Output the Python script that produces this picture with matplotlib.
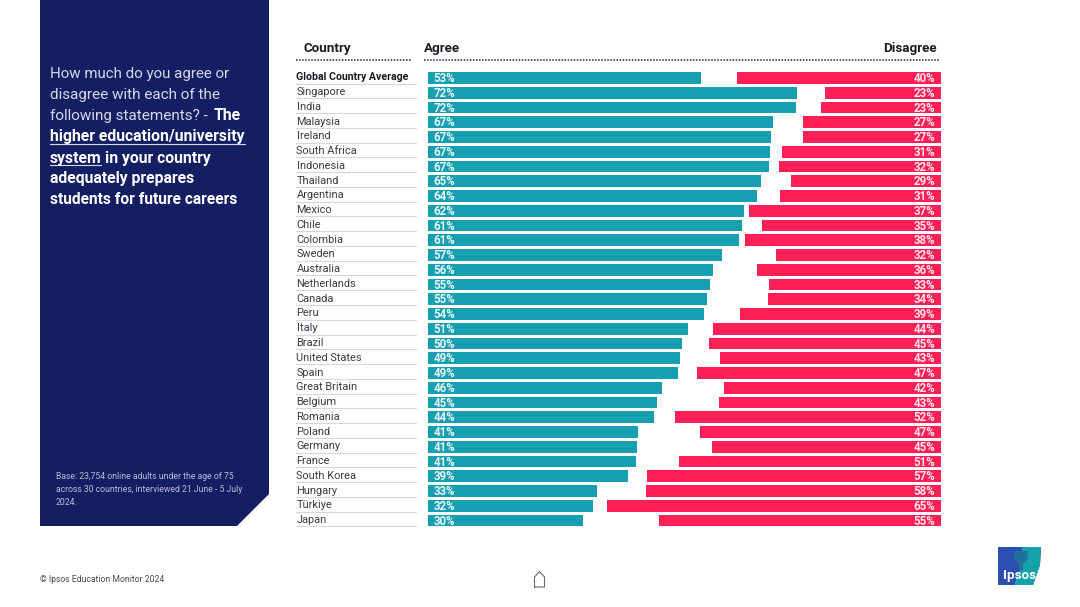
import matplotlib
matplotlib.use('Agg')
import matplotlib.pyplot as plt
from matplotlib.patches import Polygon

plt.rcParams['font.family'] = ['Roboto', 'DejaVu Sans']

countries = ['Global Country Average', 'Singapore', 'India', 'Malaysia', 'Ireland', 'South Africa',
             'Indonesia', 'Thailand', 'Argentina', 'Mexico', 'Chile', 'Colombia', 'Sweden', 'Australia',
             'Netherlands', 'Canada', 'Peru', 'Italy', 'Brazil', 'United States', 'Spain', 'Great Britain',
             'Belgium', 'Romania', 'Poland', 'Germany', 'France', 'South Korea', 'Hungary', 'Türkiye', 'Japan']
# bar lengths as measured, the printed labels are rounded separately
agree = [53.1, 71.8, 71.5, 67.1, 66.8, 66.5, 66.4, 64.7, 64.0, 61.5, 61.1, 60.5, 57.2, 55.4, 54.9, 54.3,
         53.7, 50.6, 49.5, 49.0, 48.6, 45.5, 44.6, 44.0, 40.9, 40.7, 40.5, 38.9, 32.9, 32.1, 30.2]
disagree = [39.7, 22.6, 23.3, 26.8, 26.8, 30.9, 31.5, 29.2, 31.3, 37.4, 34.8, 38.1, 32.1, 35.8, 33.5, 33.7,
            39.1, 44.4, 45.1, 43.0, 47.5, 42.2, 43.2, 51.8, 46.9, 44.6, 51.0, 57.2, 57.4, 65.0, 54.9]
agree_labels = [53, 72, 72, 67, 67, 67, 67, 65, 64, 62, 61, 61, 57, 56, 55, 55,
                54, 51, 50, 49, 49, 46, 45, 44, 41, 41, 41, 39, 33, 32, 30]
disagree_labels = [40, 23, 23, 27, 27, 31, 32, 29, 31, 37, 35, 38, 32, 36, 33, 34,
                   39, 44, 45, 43, 47, 42, 43, 52, 47, 45, 51, 57, 58, 65, 55]

W, H = 1080, 607
navy = '#141F63'
teal = '#159FB0'
red = '#FF1F57'
dark = '#1c1c24'

fig = plt.figure(figsize=(W / 100, H / 100), dpi=100)

# page layer in pixel coordinates
page = fig.add_axes([0, 0, 1, 1])
page.set_xlim(0, W)
page.set_ylim(H, 0)
page.axis('off')

page.add_patch(Polygon([(40, 0), (269, 0), (269, 494), (237, 526), (40, 526)], color=navy, lw=0))

light = '#d5d8e6'
page.text(50, 74, 'How much do you agree or', color=light, fontsize=10.9, va='center')
page.text(50, 95, 'disagree with each of the', color=light, fontsize=11, va='center')
page.text(50, 116, 'following statements? - ', color=light, fontsize=11, va='center')
page.text(214, 116, 'The', color='white', fontsize=11.3, fontweight='bold', va='center')
page.text(50, 137, 'higher education/university', color='white', fontsize=11.3, fontweight='bold', va='center')
page.plot([50, 245], [144, 144], color='#d5d8e6', lw=0.8)
page.text(50, 158, 'system', color='white', fontsize=11.3, fontweight='bold', va='center')
page.plot([50, 101], [165, 165], color='#d5d8e6', lw=0.8)
page.text(105, 158, 'in your country', color='white', fontsize=11.3, fontweight='bold', va='center')
page.text(50, 179, 'adequately prepares', color='white', fontsize=11.3, fontweight='bold', va='center')
page.text(50, 200, 'students for future careers', color='white', fontsize=11.2, fontweight='bold', va='center')

for y, line in zip([476.5, 489.5, 502.5], ['Base: 23,754 online adults under the age of 75',
                                           'across 30 countries, interviewed 21 June - 5 July', '2024.']):
    page.text(56, y, line, color='#b9bdd3', fontsize=6.2, va='center')

page.text(40, 580, '© Ipsos Education Monitor 2024', color='#4a4a52', fontsize=6.2, va='center')

# header
page.text(304, 48.5, 'Country', color=dark, fontsize=9.6, fontweight='bold', va='center')
page.text(424, 48.5, 'Agree', color=dark, fontsize=9.6, fontweight='bold', va='center')
page.text(937, 48.5, 'Disagree', color=dark, fontsize=9.6, fontweight='bold', va='center', ha='right')
page.plot([296, 412], [59.5, 59.5], color='#1b2450', lw=1.1, ls=(0, (1, 1)))
page.plot([424, 940], [59.5, 59.5], color='#1b2450', lw=1.1, ls=(0, (1, 1)))

# home icon
page.plot([534.5, 534.5, 539.5, 544.5, 544.5, 534.5], [587, 577, 571.5, 577, 587, 587], color='#66666c', lw=0.8)

# logo
page.add_patch(Polygon([(998, 547), (1041, 547), (1040, 565), (1033, 585), (998, 585)], color='#2c4fb0', lw=0))
page.add_patch(Polygon([(1022, 547), (1041, 547), (1040, 565), (1033, 585), (1014, 585), (1022, 565)],
                       color='#16a0a8', lw=0))
page.add_patch(Polygon([(1015, 551), (1027, 551), (1028, 559), (1023, 564), (1023, 570), (1019, 570),
                        (1019, 564), (1014, 559)], color='#1f6f9f', lw=0))
page.text(1019, 575.5, 'Ipsos', color='white', fontsize=9.6, fontweight='bold', ha='center', va='center')

# bars, 5.14 px per percentage point
ax_left, ax_right = 428, 941
ax_top, ax_bottom = 70.6, 527.9
ax = fig.add_axes([ax_left / W, 1 - ax_bottom / H, (ax_right - ax_left) / W, (ax_bottom - ax_top) / H])
ax.patch.set_alpha(0)
full = (ax_right - ax_left) / 5.14
pos = list(range(len(countries)))
ax.barh(pos, agree, height=0.81, color=teal)
ax.barh(pos, disagree, left=[full - d for d in disagree], height=0.81, color=red)
ax.set_xlim(0, full)
ax.set_ylim(len(countries) - 0.5, -0.5)
ax.axis('off')

for i in pos:
    ax.text(1.05, i + 0.04, '%d%%' % agree_labels[i], color='#e6f5f7', fontsize=8.3, fontweight='bold', va='center')
    ax.text(full - 1.1, i + 0.04, '%d%%' % disagree_labels[i], color='#ffe3ea', fontsize=8.3, fontweight='bold',
            va='center', ha='right')
    y = 77.3 + i * 14.76
    if i == 0:
        page.text(296.5, y, countries[i], color=dark, fontsize=7.6, fontweight='bold', va='center')
    else:
        page.text(296.5, y, countries[i], color='#3c3c44', fontsize=7.9, va='center')
    page.plot([296, 416], [y + 6.3, y + 6.3], color='#d6d6dc', lw=0.8)

fig.savefig('out.png', dpi=100)
